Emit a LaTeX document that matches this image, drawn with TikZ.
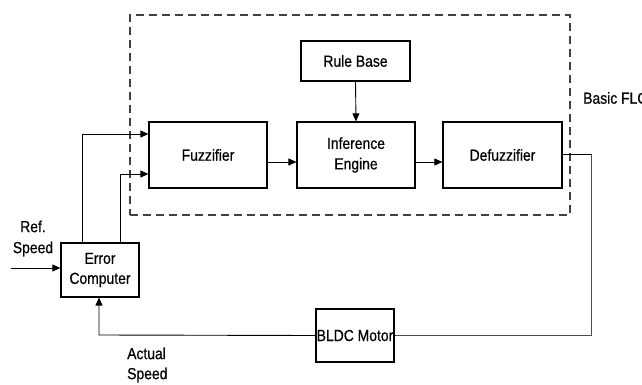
\documentclass[tikz,border=0pt]{standalone}
\usepackage{fontspec}
\setmainfont{Liberation Sans}[FakeStretch=0.87,FakeBold=0.6]
\usetikzlibrary{arrows.meta}
\begin{document}
\begin{tikzpicture}[x=1pt,y=-1pt,
  blk/.style={draw,line width=1.2pt,inner sep=0pt,align=center,font=\fontsize{16}{20.5}\selectfont},
  lbl/.style={inner sep=0pt,font=\fontsize{16}{20.5}\selectfont},
  conn/.style={line width=0.9pt},
  arr/.style={conn,-{Triangle[length=8pt,width=7pt]}},
  flcbox/.style={draw=black!75,line width=1.5pt,dash pattern=on 8pt off 5pt,minimum width=440pt,minimum height=200pt,inner sep=0pt}]
\useasboundingbox (0,0) rectangle (642,385);
\clip (0,0) rectangle (642,385);
\node[flcbox] (flc) at (350,115) {};
\node[blk,minimum width=109pt,minimum height=40pt] (rule) at (355.5,61) {Rule Base};
\node[blk,minimum width=118pt,minimum height=66pt] (fuzz) at (208,155) {Fuzzifier};
\node[blk,minimum width=118pt,minimum height=66pt] (inf) at (356,155) {Inference\\Engine};
\node[blk,minimum width=119pt,minimum height=66pt] (defuzz) at (502.5,155) {Defuzzifier};
\node[blk,minimum width=78pt,minimum height=54pt,font=\fontsize{16}{20}\selectfont] (ec) at (100,270) {Error\\Computer};
\node[blk,minimum width=78pt,minimum height=53pt] (bldc) at (355,335.5) {BLDC Motor};
\node[lbl,anchor=west] (flclbl) at (583,98) {Basic FLC};
\node[lbl,align=center,font=\fontsize{16}{21}\selectfont] (reflbl) at (33,238.5) {Ref.\\Speed};
\node[lbl,align=left,anchor=west,font=\fontsize{16}{20}\selectfont] (actlbl) at (127,365) {Actual\\Speed};
\coordinate (refin) at (11,268);
\coordinate (rc) at (591,154);
\coordinate (lc) at (99,335);
\draw[arr] (refin) -- (refin -| ec.west);
\draw[arr] ([xshift=-18pt]ec.north) |- ([yshift=21pt]fuzz.west);
\draw[arr] ([xshift=20pt]ec.north) |- ([yshift=-19pt]fuzz.west);
\draw[arr] ([yshift=-7pt]fuzz.east) -- ([yshift=-7pt]inf.west);
\draw[arr] ([yshift=-7pt]inf.east) -- ([yshift=-7pt]defuzz.west);
\draw[arr] (rule.south) -- (inf.north);
\draw[conn] ([yshift=1pt]defuzz.east) -- (rc);
\draw[line width=0.7pt,black!70] (rc) |- (bldc.east);
\draw[arr] (bldc.west) -- (lc) -- (lc |- ec.south);
\end{tikzpicture}
\end{document}
